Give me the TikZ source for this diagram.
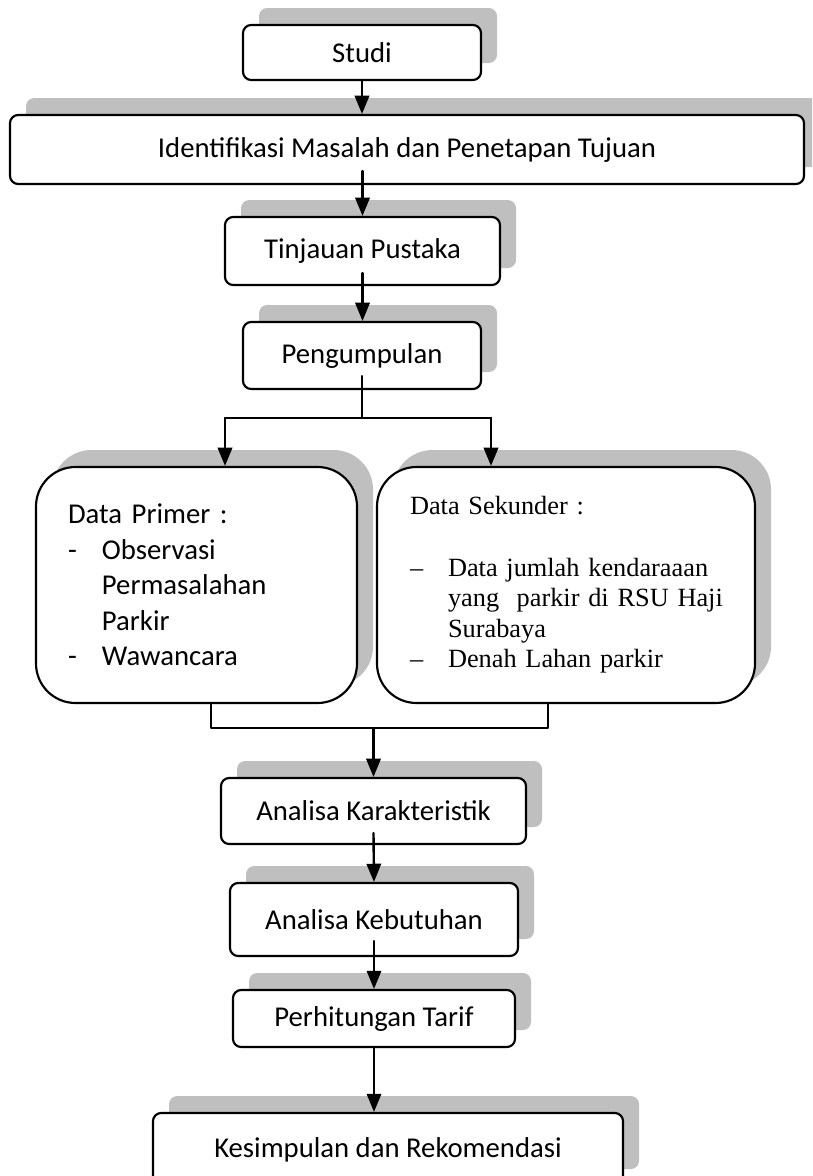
\documentclass[tikz,border=0pt]{standalone}
\usepackage{fontspec}
\setmainfont{Carlito}
\newfontfamily\serifrm{Liberation Serif}
\usepackage{tikz}
\usetikzlibrary{calc,arrows.meta,shadows}
\def\px{0.418pt}
\definecolor{shadowgray}{HTML}{BFBFBF}
\tikzset{
  box/.style={draw,line width=0.9pt,fill=white,rounded corners=3.4pt,inner sep=0pt,
    font=\fontsize{12}{14.8}\selectfont,
    drop shadow={shadow xshift=6.7pt,shadow yshift=7.1pt,fill=shadowgray,opacity=1}},
  bigbox/.style={box,rounded corners=16.5pt,align=left,inner xsep=32*\px},
  link/.style={line width=1pt}
}
\tikzstyle{arrow} = [link,-{Triangle[length=7.6pt,width=6pt]}]
\newcommand{\pitem}{\makebox[14.2pt][l]{-}}
\newcommand{\sitem}{\makebox[15.9pt][l]{\textendash}}

\begin{document}
\begin{tikzpicture}[x=\px,y=-\px,line cap=round,line join=round]
  % Window & clip
  \clip (0,0) rectangle (812,1176);

  % Steps
  \node[box,minimum width=238*\px,minimum height=55*\px] (studi) at (362,52.5) {Studi};
  \node[box,minimum width=794*\px,minimum height=69*\px] (ident) at (407,149.5)
       {Identifikasi Masalah dan Penetapan Tujuan};
  \node[box,minimum width=275*\px,minimum height=68*\px] (tinjauan) at (362.5,251) {Tinjauan Pustaka};
  \node[box,minimum width=238*\px,minimum height=67*\px] (kumpul) at (362,355.5) {Pengumpulan};

  % Data boxes
  \node[bigbox,minimum width=321*\px,minimum height=236*\px,text width=257*\px] (primer) at (196.5,585)
       {Data Primer :\\
        \pitem Observasi\\
        \hspace*{14.2pt}Permasalahan\\
        \hspace*{14.2pt}Parkir\\
        \pitem Wawancara};
  \node[bigbox,minimum width=378*\px,minimum height=236*\px,text width=312*\px,
        font=\serifrm\fontsize{11}{12.8}\selectfont] (sekunder) at (566,585)
       {Data Sekunder :\\
        \mbox{}\\
        \mbox{\sitem Data jumlah kendaraaan}\\
        \mbox{\hspace*{15.9pt}yang\ \ parkir di RSU Haji}\\
        \mbox{\hspace*{15.9pt}Surabaya}\\
        \mbox{\sitem Denah Lahan parkir}};

  % Analysis steps
  \node[box,minimum width=305*\px,minimum height=66*\px] (karakter) at (373.5,811) {Analisa Karakteristik};
  \node[box,minimum width=288*\px,minimum height=73*\px] (kebutuhan) at (374,919.5) {Analisa Kebutuhan};
  \node[box,minimum width=282*\px,minimum height=57*\px] (tarif) at (374,1018.5) {Perhitungan Tarif};
  \node[box,minimum width=470*\px,minimum height=73*\px] (simpulan) at (388,1149.5)
       {Kesimpulan dan Rekomendasi};

  % Branch and merge points
  \coordinate (split) at (362,418);
  \coordinate (splitL) at (225,418);
  \coordinate (splitR) at (491,418);
  \coordinate (mergeL) at (211,728);
  \coordinate (mergeR) at (548,728);

  % Connectors
  \draw[arrow] (studi.south) -- (studi.south |- ident.north);
  \draw[arrow] ($(ident.south -| tinjauan.north)+(0,-14)$) -- (tinjauan.north);
  \draw[arrow] ($(tinjauan.south)+(0,-13)$) -- (tinjauan.south |- kumpul.north);
  \draw[link] ($(kumpul.south)+(0,-14)$) -- (split);
  \draw[link] (splitL) -- (splitR);
  \draw[arrow] (splitL) -- (splitL |- primer.north);
  \draw[arrow] (splitR) -- (splitR |- sekunder.north);
  \draw[link] (mergeL |- primer.south) -- (mergeL) -- (mergeR) -- (mergeR |- sekunder.south);
  \draw[arrow] (mergeL -| karakter.north) -- (karakter.north);
  \draw[arrow] ($(karakter.south)+(0,-12)$) -- (kebutuhan.north);
  \draw[arrow] ($(kebutuhan.south)+(0,-16)$) -- (tarif.north);
  \draw[arrow] (tarif.south) -- (tarif.south |- simpulan.north);

\end{tikzpicture}
\end{document}
